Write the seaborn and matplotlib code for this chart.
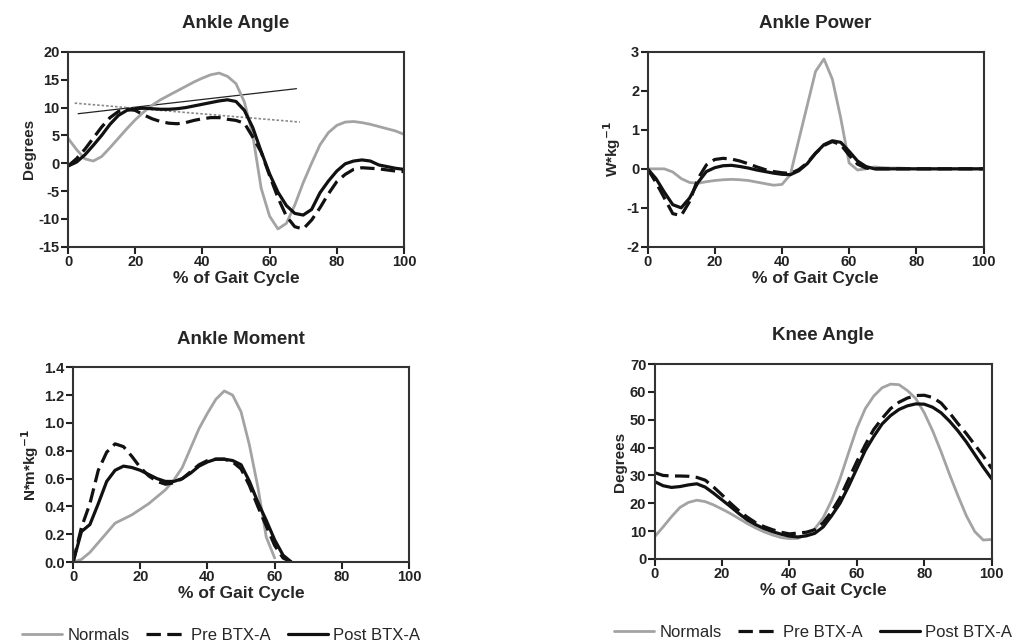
import numpy as np
import seaborn as sns
import matplotlib.pyplot as plt

# % of gait cycle, sampled every 2.5 %
pct = np.linspace(0, 100, 41)

# Ankle Angle (degrees)
angle_normals = [4.5, 2.5, 0.8, 0.4, 1.2, 2.8, 4.5, 6.2, 7.8, 9.2, 10.4, 11.4, 12.2, 13.0,
                 13.8, 14.6, 15.3, 15.9, 16.2, 15.6, 14.3, 11.0, 5.0, -4.5, -9.5, -11.8,
                 -10.8, -7.5, -3.5, 0.0, 3.3, 5.5, 6.8, 7.4, 7.5, 7.3, 7.0, 6.6, 6.2, 5.8, 5.2]
angle_pre = [-0.5, 0.8, 2.5, 4.5, 6.5, 8.2, 9.3, 9.7, 9.5, 8.7, 8.0, 7.5, 7.2, 7.1, 7.3,
             7.7, 8.0, 8.2, 8.2, 7.9, 7.7, 7.2, 4.7, 2.0, -2.2, -6.2, -9.5, -11.4, -11.8,
             -10.2, -8.0, -5.5, -3.3, -2.0, -1.1, -0.8, -0.9, -1.0, -1.2, -1.4, -1.5]
angle_post = [-0.5, 0.2, 1.5, 3.2, 5.0, 7.0, 8.6, 9.5, 9.8, 9.9, 9.8, 9.7, 9.7, 9.8, 10.0,
              10.3, 10.6, 10.9, 11.2, 11.4, 11.1, 9.5, 6.4, 2.1, -1.9, -5.2, -7.6, -9.0,
              -9.3, -8.3, -5.3, -3.2, -1.4, -0.1, 0.4, 0.6, 0.4, -0.3, -0.6, -0.9, -1.1]
trend_post_x = [3, 68]
trend_post_y = [8.9, 13.4]
trend_pre_x = [2, 69]
trend_pre_y = [10.8, 7.4]

# Ankle Power (W/kg)
power_normals = [0.0, 0.0, 0.0, -0.08, -0.25, -0.35, -0.37, -0.33, -0.3, -0.28, -0.27,
                 -0.28, -0.3, -0.34, -0.38, -0.42, -0.4, -0.15, 0.74, 1.62, 2.5, 2.82,
                 2.3, 1.3, 0.15, -0.03, 0.0, 0.05, 0.03, 0.02, 0.02, 0.01, 0.0, 0.0, 0.0,
                 0.0, 0.0, 0.0, 0.0, 0.0, 0.0]
power_pre = [0.0, -0.35, -0.75, -1.15, -1.2, -0.84, -0.25, 0.1, 0.24, 0.27, 0.25, 0.2,
             0.13, 0.05, -0.02, -0.07, -0.1, -0.12, -0.02, 0.15, 0.4, 0.6, 0.7, 0.62,
             0.35, 0.12, 0.02, 0.0, 0.0, 0.0, 0.0, 0.0, 0.0, 0.0, 0.0, 0.0, 0.0, 0.0,
             0.0, 0.0, 0.0]
power_post = [0.0, -0.25, -0.6, -0.92, -1.0, -0.75, -0.35, -0.07, 0.03, 0.08, 0.09, 0.06,
              0.02, -0.03, -0.07, -0.11, -0.14, -0.15, -0.05, 0.13, 0.4, 0.62, 0.72, 0.68,
              0.45, 0.2, 0.06, 0.0, 0.0, 0.0, 0.0, 0.0, 0.0, 0.0, 0.0, 0.0, 0.0, 0.0,
              0.0, 0.0, 0.0]

# Ankle Moment (N*m/kg), stance phase only
moment_normals = [0.0, 0.02, 0.07, 0.14, 0.21, 0.28, 0.31, 0.34, 0.38, 0.42, 0.47, 0.52,
                  0.59, 0.68, 0.82, 0.96, 1.07, 1.17, 1.23, 1.2, 1.08, 0.84, 0.54, 0.18, 0.03]
moment_pre = [0.0, 0.25, 0.42, 0.66, 0.79, 0.85, 0.83, 0.76, 0.68, 0.62, 0.58, 0.56, 0.57,
              0.6, 0.65, 0.7, 0.73, 0.74, 0.74, 0.72, 0.67, 0.55, 0.4, 0.26, 0.12, 0.03, 0.0]
moment_post = [0.0, 0.22, 0.27, 0.42, 0.58, 0.66, 0.69, 0.68, 0.66, 0.63, 0.6, 0.58, 0.58,
               0.6, 0.64, 0.69, 0.72, 0.74, 0.74, 0.73, 0.7, 0.58, 0.43, 0.3, 0.16, 0.05, 0.0]

# Knee Angle (degrees)
knee_normals = [8.0, 11.5, 15.2, 18.5, 20.3, 21.1, 20.6, 19.4, 17.9, 16.3, 14.5, 12.7,
                11.1, 9.7, 8.6, 7.7, 7.3, 7.4, 8.8, 10.8, 14.8, 21.0, 28.8, 38.0, 47.0,
                54.0, 58.5, 61.5, 62.8, 62.6, 60.5, 57.6, 52.5, 46.0, 38.5, 30.4, 22.7,
                15.5, 9.8, 6.8, 7.0]
knee_pre = [31.0, 30.0, 29.8, 29.8, 29.7, 29.3, 28.3, 25.8, 23.0, 20.0, 17.3, 15.0, 13.0,
            11.6, 10.5, 9.6, 9.0, 9.3, 9.6, 10.5, 13.0, 17.0, 22.0, 28.5, 35.0, 41.0, 46.5,
            50.5, 54.0, 56.3, 57.8, 58.7, 58.8, 58.0, 56.0, 52.5, 48.6, 45.0, 41.0, 37.0, 32.5]
knee_post = [27.8, 26.3, 25.7, 26.0, 26.6, 27.0, 25.8, 23.6, 21.2, 18.8, 16.3, 14.0, 12.3,
             10.9, 9.8, 8.9, 8.2, 7.9, 8.3, 9.2, 11.5, 15.5, 20.0, 26.0, 32.5, 39.0, 44.0,
             48.5, 51.5, 53.7, 55.0, 55.7, 55.6, 54.5, 52.5, 49.5, 46.0, 42.0, 37.5, 33.0, 28.8]

groups = ["Normals", "Pre BTX-A", "Post BTX-A"]
colors = {"Normals": "#a3a3a3", "Pre BTX-A": "#111111", "Post BTX-A": "#111111"}
styles = {"Normals": "-", "Pre BTX-A": (0, (4.5, 2)), "Post BTX-A": "-"}
widths = {"Normals": 2.0, "Pre BTX-A": 2.3, "Post BTX-A": 2.3}

sns.set_style("white")
plt.rcParams["font.family"] = ["Liberation Sans", "DejaVu Sans"]
plt.rcParams["axes.unicode_minus"] = False

fig = plt.figure(figsize=(10.15, 6.41), dpi=100)
ax_angle = fig.add_axes([0.067, 0.615, 0.331, 0.304])
ax_power = fig.add_axes([0.638, 0.615, 0.331, 0.304])
ax_moment = fig.add_axes([0.072, 0.123, 0.331, 0.304])
ax_knee = fig.add_axes([0.645, 0.128, 0.332, 0.304])

# linear trends on the ankle angle panel
sns.lineplot(x=trend_post_x, y=trend_post_y, ax=ax_angle, color="#222222", lw=0.9)
sns.lineplot(x=trend_pre_x, y=trend_pre_y, ax=ax_angle, color="#888888", lw=1.2,
             linestyle=(0, (1.5, 1.2)))

panels = [
    (ax_angle, "Ankle Angle", "Degrees", (-15, 20), [-15, -10, -5, 0, 5, 10, 15, 20], None,
     [angle_normals, angle_pre, angle_post], [pct, pct, pct]),
    (ax_power, "Ankle Power", "W*kg$^{\\mathbf{-1}}$", (-2, 3), [-2, -1, 0, 1, 2, 3], None,
     [power_normals, power_pre, power_post], [pct, pct, pct]),
    (ax_moment, "Ankle Moment", "N*m*kg$^{\\mathbf{-1}}$", (0, 1.4),
     [0, 0.2, 0.4, 0.6, 0.8, 1.0, 1.2, 1.4], "%.1f",
     [moment_normals, moment_pre, moment_post], [pct[:25], pct[:27], pct[:27]]),
    (ax_knee, "Knee Angle", "Degrees", (0, 70), [0, 10, 20, 30, 40, 50, 60, 70], None,
     [knee_normals, knee_pre, knee_post], [pct, pct, pct]),
]

for ax, title, ylab, ylim, yticks, fmt, series, xs in panels:
    for g, xv, yv in zip(groups, xs, series):
        sns.lineplot(x=xv, y=yv, ax=ax, color=colors[g], linestyle=styles[g],
                     lw=widths[g], label=g)
    ax.set_xlim(0, 100)
    ax.set_ylim(*ylim)
    ax.set_xticks([0, 20, 40, 60, 80, 100])
    ax.set_yticks(yticks)
    if fmt:
        ax.set_yticklabels([fmt % t for t in yticks])
    ax.set_title(title, fontsize=13.5, fontweight="bold", pad=17)
    ax.set_xlabel("% of Gait Cycle", fontsize=12.5, fontweight="bold", labelpad=1)
    ax.set_ylabel(ylab, fontsize=11, fontweight="bold", labelpad=2)
    ax.tick_params(axis="both", direction="out", length=5, width=1.5, labelsize=10.5,
                   pad=1, left=True, bottom=True, colors="#222222")
    for lbl in ax.get_xticklabels() + ax.get_yticklabels():
        lbl.set_fontweight("bold")
    for sp in ax.spines.values():
        sp.set_linewidth(1.5)
        sp.set_color("#333333")
    ax.get_legend().remove()

for ax, xa in [(ax_moment, 0.44), (ax_knee, 0.47)]:
    h, l = ax.get_legend_handles_labels()
    ax.legend(h[:3], l[:3], loc="upper center", bbox_to_anchor=(xa, -0.26), ncol=3,
              frameon=False, fontsize=12, handlelength=2.4, columnspacing=1.0,
              handletextpad=0.3)

fig.savefig("out.png", dpi=100)
